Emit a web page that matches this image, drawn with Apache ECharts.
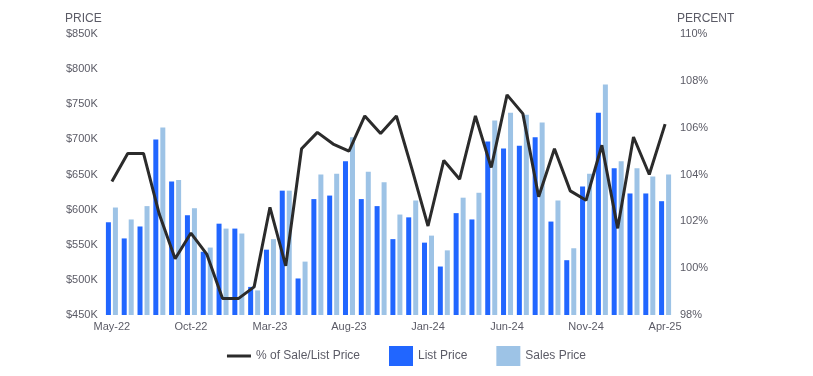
<!DOCTYPE html>
<html>
<head>
<meta charset="utf-8">
<script src="https://cdn.jsdelivr.net/npm/echarts@6/dist/echarts.min.js"></script>
<style>
  html, body { margin: 0; padding: 0; background: #fff; }
  #main { width: 813px; height: 376px; }
</style>
</head>
<body>
<div id="main"></div>
<script>
// months
var months = [
  'May-22', 'Jun-22', 'Jul-22', 'Aug-22', 'Sep-22', 'Oct-22', 'Nov-22', 'Dec-22',
  'Jan-23', 'Feb-23', 'Mar-23', 'Apr-23', 'May-23', 'Jun-23', 'Jul-23', 'Aug-23',
  'Sep-23', 'Oct-23', 'Nov-23', 'Dec-23', 'Jan-24', 'Feb-24', 'Mar-24', 'Apr-24',
  'May-24', 'Jun-24', 'Jul-24', 'Aug-24', 'Sep-24', 'Oct-24', 'Nov-24', 'Dec-24',
  'Jan-25', 'Feb-25', 'Mar-25', 'Apr-25'
];
// list price, $K
var listPrice = [
  582, 559, 576, 700, 640, 592, 540, 580,
  573, 490, 543, 627, 502, 615, 620, 669,
  615, 605, 558, 589, 553, 519, 595, 586,
  697, 687, 691, 703, 583, 528, 633, 738,
  659, 623, 623, 612
];
// sales price, $K
var salesPrice = [
  603, 586, 605, 717, 642, 602, 546, 573,
  566, 485, 558, 627, 526, 650, 651, 703,
  654, 639, 593, 613, 563, 542, 617, 624,
  727, 738, 735, 724, 613, 545, 651, 778,
  669, 659, 647, 650
];
// % of sale / list price
var pctSaleList = [
  103.7, 104.9, 104.9, 102.3, 100.4, 101.5, 100.6, 98.7,
  98.7, 99.2, 102.6, 100.1, 105.1, 105.8, 105.3, 105.0,
  106.5, 105.75, 106.5, 104.2, 101.8, 104.6, 103.8, 106.5,
  104.3, 107.4, 106.6, 103.05, 105.1, 103.3, 102.9, 105.25,
  101.7, 105.6, 104.0, 106.15
];

var txtColor = '#5b5b66';
var fontFam = '"Liberation Sans", Arial, sans-serif';

var myChart = echarts.init(document.getElementById('main'));
myChart.setOption({
  animation: false,
  backgroundColor: '#fff',
  textStyle: { fontFamily: fontFam },
  title: [
    { text: 'PRICE', left: 60, top: 8, textStyle: { fontSize: 12, fontWeight: 'normal', color: txtColor, fontFamily: fontFam } },
    { text: 'PERCENT', left: 672, top: 8, textStyle: { fontSize: 12, fontWeight: 'normal', color: txtColor, fontFamily: fontFam } }
  ],
  legend: {
    left: 'center',
    top: 341,
    itemGap: 29,
    itemWidth: 24,
    itemHeight: 20,
    textStyle: { fontSize: 12, color: txtColor, fontFamily: fontFam },
    data: [
      { name: '% of Sale/List Price', icon: 'path://M0,8.5 L24,8.5 L24,11.5 L0,11.5 Z' },
      { name: 'List Price', icon: 'rect' },
      { name: 'Sales Price', icon: 'rect' }
    ]
  },
  grid: {
    left: 104,
    right: 140,
    top: 34,
    bottom: 61
  },
  xAxis: {
    type: 'category',
    data: months,
    axisLine: { show: false },
    axisTick: { show: false },
    axisLabel: {
      interval: 4,
      color: txtColor,
      fontSize: 11,
      margin: 6,
      fontFamily: fontFam
    }
  },
  yAxis: [
    {
      type: 'value',
      min: 450,
      max: 850,
      interval: 50,
      splitLine: { show: false },
      axisLine: { show: false },
      axisTick: { show: false },
      axisLabel: {
        align: 'left',
        margin: 38,
        color: txtColor,
        fontSize: 11,
        fontFamily: fontFam,
        formatter: '${value}K'
      }
    },
    {
      type: 'value',
      min: 98,
      max: 110,
      interval: 2,
      position: 'right',
      splitLine: { show: false },
      axisLine: { show: false },
      axisTick: { show: false },
      axisLabel: {
        margin: 7,
        color: txtColor,
        fontSize: 11,
        fontFamily: fontFam,
        formatter: '{value}%'
      }
    }
  ],
  series: [
    {
      name: '% of Sale/List Price',
      type: 'line',
      yAxisIndex: 1,
      data: pctSaleList,
      symbol: 'none',
      z: 5,
      itemStyle: { color: '#2b2b2b' },
      lineStyle: { color: '#2b2b2b', width: 3 }
    },
    {
      name: 'List Price',
      type: 'bar',
      barWidth: 5,
      barGap: '40%',
      data: listPrice,
      itemStyle: { color: '#2166ff' }
    },
    {
      name: 'Sales Price',
      type: 'bar',
      barWidth: 5,
      data: salesPrice,
      itemStyle: { color: '#9dc3e6' }
    }
  ]
});
</script>
</body>
</html>
